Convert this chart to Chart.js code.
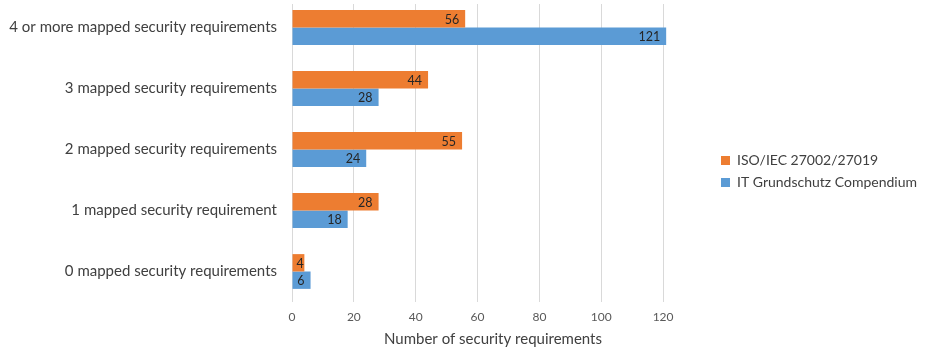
<!DOCTYPE html>
<html>
<head>
<meta charset="utf-8">
<script src="https://cdn.jsdelivr.net/npm/chart.js@4.4.0/dist/chart.umd.min.js"></script>
<style>
  html, body { margin: 0; padding: 0; background: #fff; overflow: hidden; }
  #wrap { width: 925px; height: 350px; overflow: hidden; }
  #chart { display: block; margin-top: -3px; }
</style>
</head>
<body>
<div id="wrap"><canvas id="chart" width="925" height="353"></canvas></div>
<script>
// values
var categories = [
  '4 or more mapped security requirements',
  '3 mapped security requirements',
  '2 mapped security requirements',
  '1 mapped security requirement',
  '0 mapped security requirements'
];
var seriesNames = ['ISO/IEC 27002/27019', 'IT Grundschutz Compendium'];
var isoValues = [56, 44, 55, 28, 4];
var itValues = [121, 28, 24, 18, 6];
var xTicks = [0, 20, 40, 60, 80, 100, 120];

var FONT = 'Lato';
var orange = '#ED7D31';
var blue = '#5B9BD5';

// value labels at the inside end of each bar
var barLabels = {
  id: 'barLabels',
  afterDatasetsDraw: function (chart) {
    var ctx = chart.ctx;
    ctx.save();
    ctx.font = '12.5px ' + FONT;
    ctx.fillStyle = '#262626';
    ctx.textAlign = 'right';
    ctx.textBaseline = 'middle';
    chart.data.datasets.forEach(function (ds, i) {
      chart.getDatasetMeta(i).data.forEach(function (bar, j) {
        var txt = String(ds.data[j]);
        var w = ctx.measureText(txt).width;
        var x = Math.max(bar.x - 6, bar.base + w + 4);
        ctx.fillText(txt, x, bar.y + 1);
      });
    });
    ctx.restore();
  }
};

// legend keeps a fixed width so the plot ends where excel put it
var legendBox = {
  id: 'legendBox',
  beforeInit: function (chart) {
    var fit = chart.legend.fit;
    chart.legend.fit = function () {
      fit.bind(chart.legend)();
      this.width = 231;
    };
  },
  afterLayout: function (chart) {
    var lg = chart.legend;
    lg.left = 713;
    lg.right = 925;
    lg.top += 22;
    lg.bottom += 22;
  }
};

// gridlines start a bit below the top edge in the picture
var gridClip = {
  id: 'gridClip',
  beforeDraw: function (chart) {
    var ctx = chart.ctx;
    ctx.save();
    ctx.beginPath();
    ctx.rect(0, 7, chart.width, chart.height - 7);
    ctx.clip();
  },
  afterDraw: function (chart) {
    chart.ctx.restore();
  }
};

new Chart(document.getElementById('chart'), {
  type: 'bar',
  data: {
    labels: categories,
    datasets: [
      { label: seriesNames[0], data: isoValues, backgroundColor: orange, borderWidth: 0 },
      { label: seriesNames[1], data: itValues, backgroundColor: blue, borderWidth: 0 }
    ]
  },
  options: {
    indexAxis: 'y',
    responsive: false,
    animation: false,
    devicePixelRatio: 1,
    barPercentage: 1,
    categoryPercentage: 0.57,
    layout: { padding: 0 },
    scales: {
      x: {
        min: 0,
        max: 130,
        afterBuildTicks: function (scale) {
          scale.ticks = xTicks.map(function (v) { return { value: v }; });
        },
        ticks: { padding: 8, color: '#595959', font: { family: FONT, size: 12 } },
        grid: { color: '#d9d9d9', drawTicks: false },
        border: { display: false },
        title: {
          display: true,
          text: 'Number of security requirements',
          color: '#404040',
          font: { family: FONT, size: 15 },
          padding: { top: 0, bottom: 2 }
        },
        afterFit: function (scale) {
          scale.height = 48;
          scale.paddingLeft = 0;
          scale.paddingRight = 0;
        }
      },
      y: {
        ticks: { padding: 15, color: '#404040', font: { family: FONT, size: 15 } },
        grid: { display: false, drawTicks: false },
        border: { display: false },
        afterFit: function (scale) {
          scale.width = 292;
          scale.paddingTop = 0;
          scale.paddingBottom = 0;
        }
      }
    },
    plugins: {
      legend: {
        position: 'right',
        fullSize: false,
        labels: {
          boxWidth: 9,
          boxHeight: 9,
          padding: 8,
          color: '#404040',
          font: { family: FONT, size: 14 }
        }
      },
      tooltip: { enabled: false }
    }
  },
  plugins: [barLabels, legendBox, gridClip]
});
</script>
</body>
</html>
